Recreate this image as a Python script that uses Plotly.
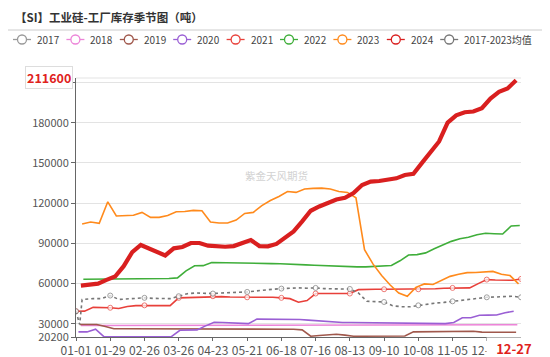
import pandas as pd
import plotly.graph_objects as go

# ---------------- data ----------------
title_text = "【SI】工业硅-工厂库存季节图（吨）"
watermark_text = "紫金天风期货"
series_names = ["2017", "2018", "2019", "2020", "2021", "2022", "2023", "2024"]
avg_name = "2017-2023均值"

v2017 = []
v2018 = [28800, 28800, 28800, 28800, 28900, 28900, 28900, 28900, 29000, 29000,
         29000, 29000, 29000, 29000, 29000, 29000, 29000, 29000, 29100, 29100,
         29100, 29100, 29100, 29100, 29100, 29100, 29100, 29200, 29200, 29200,
         29200, 29200, 29200, 29200, 29200, 29200, 29200, 29300, 29300, 29300,
         29300, 29300, 29300, 29300, 29300, 29300, 29300, 29300, 29300, 29300,
         29300, 29300]
v2019 = [29500, 29500, 29500, 28000, 26300, 26300, 26300, 26300, 26300, 26300,
         26300, 26300, 26300, 26300, 26300, 26300, 26300, 26300, 26300, 26300,
         26300, 26300, 26300, 26300, 26300, 26000, 25500, 20800, 21300, 21800,
         22200, 21600, 20800, 20800, 20800, 20800, 20800, 20800, 21000, 24000,
         24000, 24000, 24000, 24000, 24000, 24200, 24500, 23800, 23700, 23700,
         23700, 23700]
v2020 = [24000, 24000, 26000, 20300, 20300, 20300, 20300, 20300, 20300, 20300,
         20300, 20500, 25200, 25200, 25500, 28500, 31200, 31000, 30700, 30500,
         30200, 33500, 33500, 33300, 33200, 33200, 33200, 32800, 32300, 31500,
         31200, 31000, 31000, 30900, 30800, 30800, 30700, 30700, 30700, 30600,
         30400, 30200, 30200, 30200, 31000, 34500, 34600, 36400, 36500, 36600,
         38300, 39400]
v2021 = [39400, 39500, 42300, 42300, 42000, 41500, 43000, 43600, 43800, 43700,
         43600, 43600, 49400, 49600, 49900, 50000, 50600, 50300, 50000, 50000,
         49800, 49900, 50100, 49800, 49400, 48800, 46100, 47400, 52600, 52600,
         52600, 52600, 52600, 55500, 55800, 55800, 55800, 55800, 55800, 55800,
         55800, 56000, 56200, 56600, 56800, 56800, 56800, 60000, 63000, 62700,
         62500, 62500, 63500]
v2022 = [63300, 63300, 63400, 63500, 63600, 63700, 63600, 63600, 63700, 63700,
         63800, 64300, 69500, 73300, 73400, 75800, 75600, 75400, 75200, 75100,
         75000, 75000, 74900, 74800, 74700, 74300, 74000, 73700, 73400, 73200,
         72900, 72700, 72500, 72500, 72700, 73000, 73500, 77000, 81300, 81600,
         82900, 86000, 89000, 91500, 93500, 94500, 96500, 97500, 97200, 97000,
         103000, 103300]
v2023 = [104400, 105900, 104900, 121000, 110400, 110500, 111000, 113100, 109400, 109400,
         110800, 113600, 113800, 114600, 114300, 105900, 105200, 105200, 107400, 112300,
         113100, 118100, 122000, 125000, 128700, 128000, 130500, 131000, 131200, 130500,
         128700, 128000, 124000, 85300, 74500, 66000, 59000, 53000, 50500, 57200,
         59800, 59300, 62500, 65400, 67000, 68200, 68300, 68600, 69100, 67000,
         66000, 59800]
v2024 = [58500, 59500, 60000, 62800, 65300, 73000, 83500, 88800,
         86300, 83600, 81000, 86300, 87300, 90300, 90300, 88300, 87800, 87500,
         88000, 90200, 92500, 88000, 87800, 89600, 94000, 98900, 106400, 114300,
         117500, 119800, 122700, 124000, 127500, 133500, 136100, 136500, 137200, 138500,
         141000, 141900, 150000, 158000, 166000, 180000, 185500, 187800, 188300, 190800,
         198000, 203000, 205500, 211600]
avg_lead_dates = ["01-01", "01-04", "01-06"]
v_avg = [39400, 29500, 48100,
         48300, 48800, 48800, 51100, 48200, 48500, 48800, 49400, 49000, 48800,
         48800, 50600, 52500, 53000, 52800, 52600, 53000, 53100, 53300, 53800,
         54500, 55300, 55800, 56300, 56800, 56800, 56600, 56800, 56300, 56000,
         56000, 56000, 53000, 46800, 46300, 46300, 43500, 42800, 42700, 43800,
         44600, 45500, 46000, 46800, 47500, 48500, 49000, 49800, 50000, 50100,
         50600, 49800]

x_tick_labels = ["01-01", "01-29", "02-26", "03-26", "04-23", "05-21", "06-18",
                 "07-16", "08-13", "09-10", "10-08", "11-05", "12-03"]
latest_date = "12-27"
latest_value = 211600
y_tick_values = [20200, 30000, 60000, 90000, 120000, 150000, 180000, 210000]
y_range = [20200, 213300]

series_values = {"2017": v2017, "2018": v2018, "2019": v2019, "2020": v2020,
                 "2021": v2021, "2022": v2022, "2023": v2023, "2024": v2024}
colors = {"2017": "#9a9a9a", "2018": "#ec84d8", "2019": "#a0584c", "2020": "#9a5fd4",
          "2021": "#e8403a", "2022": "#3fae3a", "2023": "#ff8a1c", "2024": "#d91f1f",
          avg_name: "#777777"}

# ---------------- helpers ----------------
all_days = [d.strftime("%m-%d") for d in pd.date_range("2023-01-01", "2023-12-31")]


def friday_dates(year):
    return [d.strftime("%m-%d") for d in pd.date_range(f"{year}-01-01", f"{year}-12-31", freq="W-FRI")]


avg_dates = avg_lead_dates + [d.strftime("%m-%d") for d in pd.date_range("2023-01-08", "2023-12-31", freq="7D")]
tick_set = set(x_tick_labels)

# page body has an 8px margin; size the figure to fit inside the 550x357 window
OFF = 8
W, H = 550 - OFF, 357 - OFF
ML, MR, MT, MB = 76 - OFF, 29, 78 - OFF, 20
PW, PH = W - ML - MR, H - MT - MB


def px(xp):  # window pixel -> paper x
    return (xp - OFF - ML) / PW


def py(yp):  # window pixel -> paper y
    return (H - MB - (yp - OFF)) / PH


fig = go.Figure()

for name in series_names:
    vals = series_values[name]
    if not vals:
        continue
    dates = friday_dates(int(name))[:len(vals)]
    if name == "2021":
        sizes = [5 if (d in tick_set or i == len(dates) - 1) else 0 for i, d in enumerate(dates)]
        fig.add_trace(go.Scatter(x=dates, y=vals, mode="lines+markers", name=name,
                                 line=dict(color=colors[name], width=1.6),
                                 marker=dict(size=sizes, color="white",
                                             line=dict(color=colors[name], width=1)),
                                 showlegend=False))
    else:
        width = 4.2 if name == "2024" else 1.6
        fig.add_trace(go.Scatter(x=dates, y=vals, mode="lines", name=name,
                                 line=dict(color=colors[name], width=width),
                                 showlegend=False))

sizes_avg = [5 if (d in tick_set or i == len(avg_dates) - 1) else 0 for i, d in enumerate(avg_dates)]
fig.add_trace(go.Scatter(x=avg_dates, y=v_avg, mode="lines+markers", name=avg_name,
                         line=dict(color=colors[avg_name], width=1.6, dash="dot"),
                         marker=dict(size=sizes_avg, color="white",
                                     line=dict(color=colors[avg_name], width=1)),
                         showlegend=False))
# keep 2024 on top
fig.data = tuple([t for t in fig.data if t.name != "2024"] + [t for t in fig.data if t.name == "2024"])

FONT = "Microsoft YaHei, Noto Sans CJK SC, sans-serif"
shapes = []
annotations = []

# title + separator
annotations.append(dict(text="<b>" + title_text + "</b>", xref="paper", yref="paper",
                        x=px(13), y=py(17), xanchor="left", yanchor="middle", showarrow=False,
                        font=dict(size=11.5, color="#333333", family=FONT)))
shapes.append(dict(type="line", xref="paper", yref="paper", x0=px(8), x1=px(542),
                   y0=py(30), y1=py(30), line=dict(color="#cccccc", width=1)))

# manual legend
legend_names = series_names + [avg_name]
for i, name in enumerate(legend_names):
    cx = 22 + 53.4 * i
    cy = 39.5
    c = colors[name]
    shapes.append(dict(type="line", xref="paper", yref="paper", x0=px(cx - 9), x1=px(cx + 9),
                       y0=py(cy), y1=py(cy), line=dict(color=c, width=1.3)))
    shapes.append(dict(type="circle", xref="paper", yref="paper", x0=px(cx - 4.5), x1=px(cx + 4.5),
                       y0=py(cy + 4.5), y1=py(cy - 4.5), fillcolor="white", line=dict(color=c, width=1.3)))
    annotations.append(dict(text=name, xref="paper", yref="paper", x=px(cx + 13), y=py(cy),
                            xanchor="left", yanchor="middle", showarrow=False,
                            font=dict(size=10, color="#444444", family=FONT)))

# top border grid line
shapes.append(dict(type="line", xref="paper", yref="paper", x0=0, x1=1, y0=1, y1=1,
                   line=dict(color="#e3e3e3", width=1)))

# watermark
annotations.append(dict(text=watermark_text, xref="paper", yref="paper", x=px(276), y=py(175),
                        showarrow=False, font=dict(size=10.5, color="#d2d2d2", family=FONT)))

# latest value label on y axis
annotations.append(dict(text="<b>" + f"{latest_value}" + "</b>", xref="paper", yref="paper",
                        x=px(73), y=py(77.5), xanchor="right", yanchor="middle", showarrow=False,
                        bgcolor="white", bordercolor="#dddddd", borderwidth=1, borderpad=1,
                        font=dict(size=12.5, color="#e0221c", family=FONT)))
# latest date label on x axis (white box partly hides the 12-03 label, as in the source)
annotations.append(dict(text="<b>" + latest_date + "</b>", xref="paper", yref="paper",
                        x=px(486), y=py(348.5), xanchor="left", yanchor="middle", showarrow=False,
                        width=44, align="right",
                        bgcolor="white", borderpad=1,
                        font=dict(size=13, color="#e0221c", family=FONT)))

fig.update_layout(
    width=W, height=H,
    margin=dict(l=ML, r=MR, t=MT, b=MB),
    paper_bgcolor="white", plot_bgcolor="white",
    showlegend=False,
    font=dict(family=FONT),
    shapes=shapes, annotations=annotations,
    xaxis=dict(type="category", categoryorder="array", categoryarray=all_days,
               range=[0, len(all_days) - 1], automargin=False,
               tickmode="array", tickvals=x_tick_labels + [latest_date],
               ticktext=x_tick_labels + [""],
               ticks="outside", ticklen=3, tickcolor="#666666",
               showline=True, linecolor="#666666", linewidth=1, showgrid=False,
               tickfont=dict(size=12, color="#555555", family=FONT)),
    yaxis=dict(range=y_range, tickmode="array", tickvals=y_tick_values,
               ticktext=[str(v) for v in y_tick_values], automargin=False,
               ticks="outside", ticklen=4, tickcolor="#666666",
               showline=True, linecolor="#666666", linewidth=1,
               showgrid=True, gridcolor="#e3e3e3", zeroline=False,
               tickfont=dict(size=11, color="#555555", family=FONT)),
)

fig.write_html("out.html")
